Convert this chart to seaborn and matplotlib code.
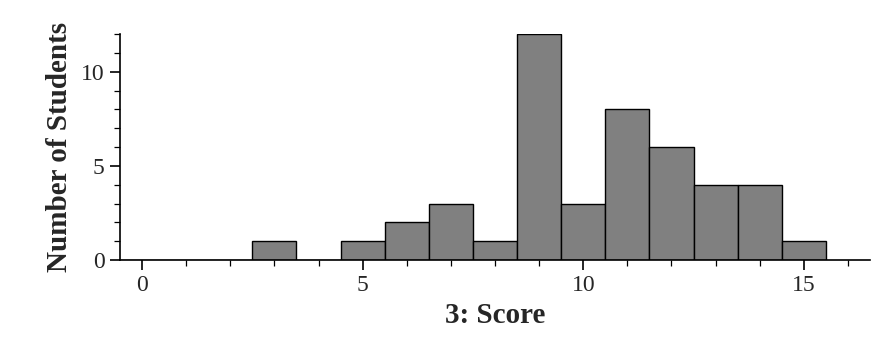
import matplotlib
matplotlib.use("Agg")
import matplotlib.pyplot as plt
import seaborn as sns
import numpy as np
from matplotlib.ticker import MultipleLocator

scores = [0, 1, 2, 3, 4, 5, 6, 7, 8, 9, 10, 11, 12, 13, 14, 15]
counts = [0, 0, 0, 1, 0, 1, 2, 3, 1, 12, 3, 8, 6, 4, 4, 1]

sns.set_style("ticks")
plt.rcParams['font.family'] = ['Liberation Serif', 'DejaVu Serif']

fig = plt.figure(figsize=(8.93, 3.44), dpi=100)
ax = fig.add_axes([120/893, (344-260)/344, (870-120)/893, (260-34)/344])

sns.histplot(x=scores, weights=counts, discrete=True, ax=ax,
             color="#808080", edgecolor="black", linewidth=1.0, alpha=1.0)

ax.set_xlim(-0.5, 16.5)
ax.set_ylim(0, 12)
ax.xaxis.set_major_locator(MultipleLocator(5))
ax.xaxis.set_minor_locator(MultipleLocator(1))
ax.yaxis.set_major_locator(MultipleLocator(5))
ax.yaxis.set_minor_locator(MultipleLocator(1))
ax.tick_params(which='major', length=7, width=1.2, labelsize=17, direction='out', color='black', pad=4)
ax.tick_params(which='minor', length=4, width=0.9, direction='out', color='black')
for s in ['top', 'right']:
    ax.spines[s].set_visible(False)
for s in ['left', 'bottom']:
    ax.spines[s].set_color('black')
    ax.spines[s].set_linewidth(1.2)

ax.set_xlabel("3: Score", fontsize=21, fontweight='bold', labelpad=4)
ax.set_ylabel("Number of Students", fontsize=21, fontweight='bold', labelpad=6)

fig.savefig("out.png", dpi=100)
